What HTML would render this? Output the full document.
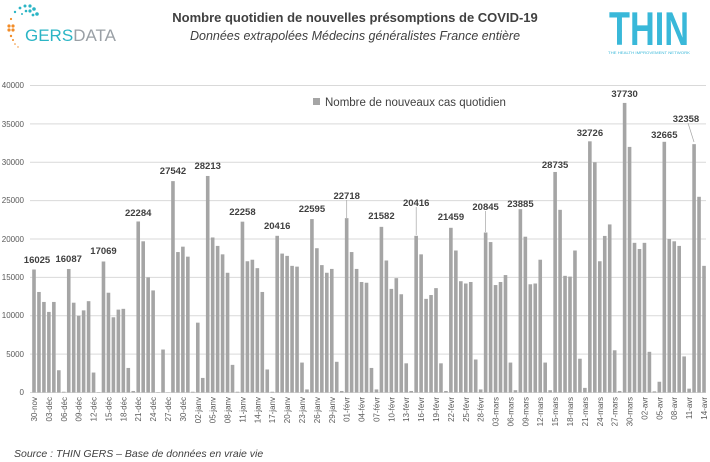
<!DOCTYPE html>
<html><head><meta charset="utf-8"><style>
body{margin:0;background:#fff;}
svg{display:block;font-family:"Liberation Sans",sans-serif;}
</style></head><body>
<svg id="s" width="710" height="462" viewBox="0 0 710 462" xmlns="http://www.w3.org/2000/svg">
<rect width="710" height="462" fill="#fff"/>
<!-- GERSDATA logo -->
<g fill="#f28c28"><circle cx="9" cy="26" r="1.6"/><circle cx="13" cy="26" r="1.6"/><circle cx="9" cy="30" r="1.6"/><circle cx="13" cy="30" r="1.6"/><circle cx="11" cy="36" r="1.2"/><circle cx="13" cy="40" r="1"/><circle cx="15" cy="44" r="0.8"/><circle cx="18" cy="47" r="0.7"/><circle cx="11" cy="19" r="1.1"/></g>
<g fill="#2bb5c5"><circle cx="15" cy="12" r="1.2"/><circle cx="20" cy="8" r="1.4"/><circle cx="25" cy="6" r="1.5"/><circle cx="30" cy="6" r="1.6"/><circle cx="34" cy="9" r="1.8"/><circle cx="30" cy="11" r="1.6"/><circle cx="26" cy="11" r="1.3"/><circle cx="37" cy="14" r="1.8"/><circle cx="33" cy="15" r="1.4"/><circle cx="22" cy="14" r="1"/></g>
<text x="25" y="41" font-size="17" fill="#2bb5c5">GERS<tspan fill="#9aa0a6">DATA</tspan></text>
<!-- THIN logo -->
<text x="649" y="45" font-size="47" font-weight="bold" fill="#39b8d9" text-anchor="middle" textLength="80" lengthAdjust="spacingAndGlyphs">THIN</text>
<text x="649" y="54" font-size="4" fill="#39b8d9" text-anchor="middle" textLength="82" lengthAdjust="spacingAndGlyphs">THE HEALTH IMPROVEMENT NETWORK</text>
<!-- titles -->
<text x="355" y="22" font-size="13" font-weight="bold" fill="#404040" text-anchor="middle">Nombre quotidien de nouvelles présomptions de COVID-19</text>
<text x="355" y="40" font-size="12.5" font-style="italic" fill="#404040" text-anchor="middle">Données extrapolées Médecins généralistes France entière</text>
<!-- grid -->
<g stroke="#d9d9d9" stroke-width="1">
<line x1="30" x2="706" y1="392.5" y2="392.5"/><line x1="30" x2="706" y1="354.1" y2="354.1"/><line x1="30" x2="706" y1="315.8" y2="315.8"/><line x1="30" x2="706" y1="277.4" y2="277.4"/><line x1="30" x2="706" y1="239" y2="239"/><line x1="30" x2="706" y1="200.6" y2="200.6"/><line x1="30" x2="706" y1="162.3" y2="162.3"/><line x1="30" x2="706" y1="123.9" y2="123.9"/><line x1="30" x2="706" y1="85.5" y2="85.5"/>
</g>
<g font-size="8" fill="#595959" text-anchor="end">
<text x="24" y="395">0</text><text x="24" y="357">5000</text><text x="24" y="318">10000</text><text x="24" y="280">15000</text><text x="24" y="242">20000</text><text x="24" y="203">25000</text><text x="24" y="165">30000</text><text x="24" y="127">35000</text><text x="24" y="88">40000</text>
</g>
<g id="bars" fill="#a5a5a5"></g>
<!-- legend -->
<rect x="313" y="98" width="7" height="7" fill="#a5a5a5"/>
<text x="325" y="106" font-size="11.5" fill="#404040">Nombre de nouveaux cas quotidien</text>
<!-- leader lines -->
<g stroke="#a5a5a5" stroke-width="0.7">
<line x1="346.7" y1="200" x2="346.7" y2="218"/><line x1="416.2" y1="207" x2="416.2" y2="235"/><line x1="485.6" y1="211" x2="485.6" y2="232"/><line x1="688" y1="123" x2="694" y2="142"/>
</g>
<g font-size="9.5" font-weight="bold" fill="#404040" text-anchor="middle">
<text x="37" y="263">16025</text><text x="68.7" y="262">16087</text><text x="103.5" y="254">17069</text><text x="138.2" y="216">22284</text><text x="173" y="174">27542</text><text x="207.7" y="169">28213</text><text x="242.4" y="215">22258</text><text x="277.2" y="229">20416</text><text x="311.9" y="212">22595</text><text x="346.7" y="199">22718</text><text x="381.4" y="219">21582</text><text x="416.2" y="206">20416</text><text x="450.9" y="220">21459</text><text x="485.6" y="210">20845</text><text x="520.4" y="207">23885</text><text x="555.1" y="168">28735</text><text x="589.9" y="136">32726</text><text x="624.6" y="97">37730</text><text x="664.3" y="138">32665</text><text x="686" y="122">32358</text>
</g>
<!-- x labels -->
<g font-size="8" fill="#595959" text-anchor="end">
<text transform="translate(37,397) rotate(-90)">30-nov</text>
<text transform="translate(51.9,397) rotate(-90)">03-déc</text>
<text transform="translate(66.8,397) rotate(-90)">06-déc</text>
<text transform="translate(81.7,397) rotate(-90)">09-déc</text>
<text transform="translate(96.6,397) rotate(-90)">12-déc</text>
<text transform="translate(111.4,397) rotate(-90)">15-déc</text>
<text transform="translate(126.3,397) rotate(-90)">18-déc</text>
<text transform="translate(141.2,397) rotate(-90)">21-déc</text>
<text transform="translate(156.1,397) rotate(-90)">24-déc</text>
<text transform="translate(171,397) rotate(-90)">27-déc</text>
<text transform="translate(185.9,397) rotate(-90)">30-déc</text>
<text transform="translate(200.8,397) rotate(-90)">02-janv</text>
<text transform="translate(215.7,397) rotate(-90)">05-janv</text>
<text transform="translate(230.6,397) rotate(-90)">08-janv</text>
<text transform="translate(245.4,397) rotate(-90)">11-janv</text>
<text transform="translate(260.3,397) rotate(-90)">14-janv</text>
<text transform="translate(275.2,397) rotate(-90)">17-janv</text>
<text transform="translate(290.1,397) rotate(-90)">20-janv</text>
<text transform="translate(305,397) rotate(-90)">23-janv</text>
<text transform="translate(319.9,397) rotate(-90)">26-janv</text>
<text transform="translate(334.8,397) rotate(-90)">29-janv</text>
<text transform="translate(349.7,397) rotate(-90)">01-févr</text>
<text transform="translate(364.6,397) rotate(-90)">04-févr</text>
<text transform="translate(379.4,397) rotate(-90)">07-févr</text>
<text transform="translate(394.3,397) rotate(-90)">10-févr</text>
<text transform="translate(409.2,397) rotate(-90)">13-févr</text>
<text transform="translate(424.1,397) rotate(-90)">16-févr</text>
<text transform="translate(439,397) rotate(-90)">19-févr</text>
<text transform="translate(453.9,397) rotate(-90)">22-févr</text>
<text transform="translate(468.8,397) rotate(-90)">25-févr</text>
<text transform="translate(483.7,397) rotate(-90)">28-févr</text>
<text transform="translate(498.6,397) rotate(-90)">03-mars</text>
<text transform="translate(513.4,397) rotate(-90)">06-mars</text>
<text transform="translate(528.3,397) rotate(-90)">09-mars</text>
<text transform="translate(543.2,397) rotate(-90)">12-mars</text>
<text transform="translate(558.1,397) rotate(-90)">15-mars</text>
<text transform="translate(573,397) rotate(-90)">18-mars</text>
<text transform="translate(587.9,397) rotate(-90)">21-mars</text>
<text transform="translate(602.8,397) rotate(-90)">24-mars</text>
<text transform="translate(617.7,397) rotate(-90)">27-mars</text>
<text transform="translate(632.6,397) rotate(-90)">30-mars</text>
<text transform="translate(647.4,397) rotate(-90)">02-avr</text>
<text transform="translate(662.3,397) rotate(-90)">05-avr</text>
<text transform="translate(677.2,397) rotate(-90)">08-avr</text>
<text transform="translate(692.1,397) rotate(-90)">11-avr</text>
<text transform="translate(707,397) rotate(-90)">14-avr</text>
</g>
<text x="14" y="457" font-size="10.5" font-style="italic" fill="#404040">Source : THIN GERS – Base de données en vraie vie</text>
</svg>
<script>
var d=[16025,13100,11800,10500,11800,2900,100,
16087,11700,10000,10700,11900,2600,50,
17069,13000,9800,10800,10900,3200,200,
22284,19700,15000,13300,50,5600,30,
27542,18300,19000,17700,100,9100,1900,
28213,20200,19100,18000,15600,3600,100,
22258,17100,17300,16200,13100,3000,100,
20416,18100,17800,16500,16400,3900,400,
22595,18800,16600,15600,16100,4000,200,
22718,18300,16100,14400,14300,3200,400,
21582,17200,13500,14900,12800,3800,200,
20416,18000,12200,12700,13600,3800,200,
21459,18500,14500,14200,14400,4300,400,
20845,19600,14000,14400,15300,3900,300,
23885,20300,14100,14200,17300,3900,300,
28735,23800,15200,15100,18500,4400,600,
32726,30000,17100,20400,21900,5500,200,
37730,32000,19500,18700,19500,5300,150,
1400,32665,20000,19700,19100,4700,500,
32358,25500,16500];
var g=document.getElementById('bars'),ns='http://www.w3.org/2000/svg';
for(var i=0;i<d.length;i++){var h=d[i]*0.007675;var r=document.createElementNS(ns,'rect');
r.setAttribute('x',(34+i*4.963-1.8).toFixed(2));r.setAttribute('y',(392.5-h).toFixed(2));
r.setAttribute('width','3.6');r.setAttribute('height',h.toFixed(2));g.appendChild(r);}
</script>
</body></html>
